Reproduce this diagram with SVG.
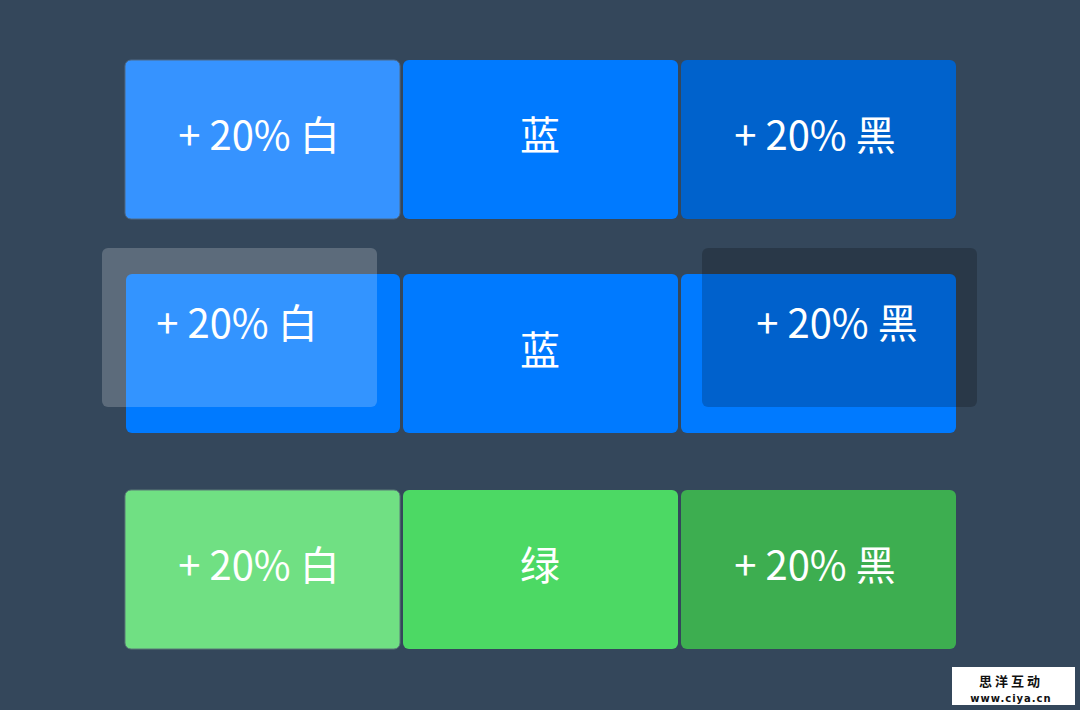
<svg xmlns="http://www.w3.org/2000/svg" width="1080" height="710" viewBox="0 0 1080 710">
<style>
.lbl{font-family:"Noto Sans CJK SC","Noto Sans",sans-serif;font-size:40px;fill:#ffffff;text-anchor:middle}
.wm{fill:#111111;text-anchor:middle;font-weight:bold}
</style>
<rect x="0" y="0" width="1080" height="710" fill="#34475B"/>
<g id="row1">
<g id="b1w"><rect x="125" y="60" width="275" height="159" rx="6" fill="#3693FF" stroke="#4F6A88" stroke-width="1"/><text class="lbl" x="259" y="150">+ 20% 白</text></g>
<g id="b1"><rect x="403" y="60" width="275" height="159" rx="6" fill="#007AFF"/><text class="lbl" x="540" y="150">蓝</text></g>
<g id="b1k"><rect x="681" y="60" width="275" height="159" rx="6" fill="#0062CC"/><text class="lbl" x="815" y="150">+ 20% 黑</text></g>
</g>
<g id="row2">
<g id="b2a"><rect x="126" y="274" width="274" height="159" rx="6" fill="#007AFF"/></g>
<g id="b2"><rect x="403" y="274" width="275" height="159" rx="6" fill="#007AFF"/><text class="lbl" x="540" y="365">蓝</text></g>
<g id="b2c"><rect x="681" y="274" width="275" height="159" rx="6" fill="#007AFF"/></g>
<g id="ov-white"><rect x="102" y="248" width="275" height="159" rx="6" fill="#ffffff" fill-opacity="0.2"/><text class="lbl" x="237" y="338">+ 20% 白</text></g>
<g id="ov-black"><rect x="702" y="248" width="275" height="159" rx="6" fill="#000000" fill-opacity="0.2"/><text class="lbl" x="837" y="338">+ 20% 黑</text></g>
</g>
<g id="row3">
<g id="b3w"><rect x="125" y="490" width="275" height="159" rx="6" fill="#70E083" stroke="#5A7A78" stroke-width="1"/><text class="lbl" x="259" y="580">+ 20% 白</text></g>
<g id="b3"><rect x="403" y="490" width="275" height="159" rx="6" fill="#4CD964"/><text class="lbl" x="540" y="580">绿</text></g>
<g id="b3k"><rect x="681" y="490" width="275" height="159" rx="6" fill="#3DAE50"/><text class="lbl" x="815" y="580">+ 20% 黑</text></g>
</g>
<g id="watermark">
<rect x="952" y="667" width="123" height="38" fill="#ffffff"/>
<text class="wm" x="1011" y="686" font-size="13" letter-spacing="3" font-family="'Noto Sans CJK SC', sans-serif">思洋互动</text>
<text class="wm" x="1011" y="702" font-size="10" letter-spacing="1" font-family="'DejaVu Sans', sans-serif">www.ciya.cn</text>
</g>
<g id="connectors"/>
</svg>
